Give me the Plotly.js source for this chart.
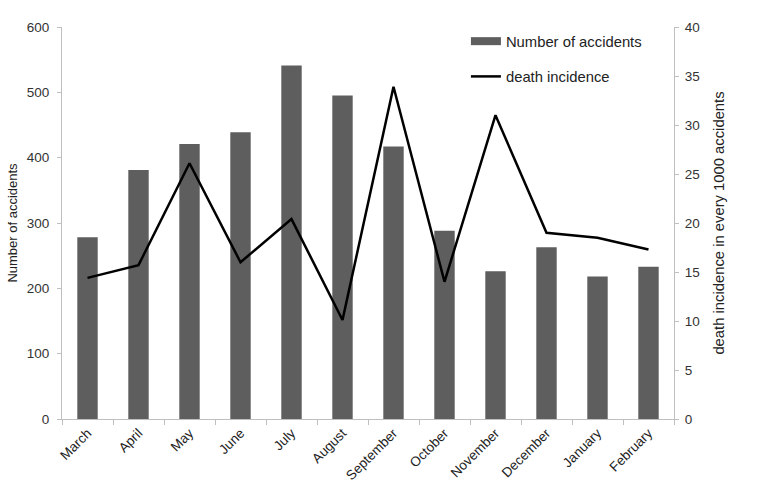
<!DOCTYPE html>
<html><head><meta charset="utf-8">
<script src="https://cdn.plot.ly/plotly-3.0.1.min.js"></script>
<style>body{margin:0;background:#fff}#chart{width:762px;height:496px}</style>
</head><body><div id="chart"></div>
<script>
const months = ["March","April","May","June","July","August","September","October","November","December","January","February"];
const accidents = [278, 381, 421, 439, 541, 495, 417, 288, 226, 263, 218, 233];
const deathIncidence = [14.4, 15.7, 26.1, 16.0, 20.4, 10.1, 33.9, 14.0, 31.0, 19.0, 18.5, 17.3];
const leftTicks = [0,100,200,300,400,500,600];
const rightTicks = [0,5,10,15,20,25,30,35,40];

const fam = "Liberation Sans, Arial, sans-serif";
const barColor = "#5e5e5e";
const traces = [
  {type:"bar", x:months, y:accidents, name:"Number of accidents",
   marker:{color:barColor}, yaxis:"y", showlegend:false},
  // legend-only entry so the bar key is drawn as a wide swatch like the reference
  {type:"scatter", mode:"lines", x:[months[0]], y:[null], name:"Number of accidents",
   line:{color:barColor, width:8}, yaxis:"y", legendgroup:"a", hoverinfo:"skip"},
  {type:"scatter", mode:"lines", x:months, y:deathIncidence, name:"death incidence",
   line:{color:"#000", width:2.5}, yaxis:"y2", legendgroup:"b"}
];
const layout = {
  width:762, height:496,
  margin:{l:62, r:88, t:27, b:77},
  paper_bgcolor:"#fff", plot_bgcolor:"#fff",
  font:{family:fam, size:13, color:"#333"},
  bargap:0.6,
  showlegend:true,
  legend:{x:0.66, y:1.005, xanchor:"left", yanchor:"top", bgcolor:"rgba(0,0,0,0)",
          font:{family:fam, size:14.8, color:"#222"}, traceorder:"grouped", tracegroupgap:13},
  xaxis:{type:"category", tickangle:-45, showgrid:false, showline:true, linecolor:"#bfbfbf",
         ticks:"outside", tickson:"boundaries", ticklen:5, tickcolor:"#bfbfbf",
         tickfont:{family:fam, size:13.5, color:"#222"}},
  yaxis:{range:[0,600], tickvals:leftTicks, showgrid:false, showline:true, linecolor:"#bfbfbf",
         ticks:"outside", ticklen:4, tickcolor:"#bfbfbf", zeroline:false, ticklabelstandoff:5,
         title:{text:"Number of accidents", standoff:6, font:{family:fam, size:13, color:"#222"}},
         tickfont:{family:fam, size:13.5, color:"#333"}},
  yaxis2:{range:[0,40], tickvals:rightTicks, overlaying:"y", side:"right", showgrid:false,
          showline:true, linecolor:"#bfbfbf", ticks:"outside", ticklen:4, tickcolor:"#bfbfbf", zeroline:false,
          ticklabelstandoff:3,
          title:{text:"death incidence in every 1000 accidents", standoff:14, font:{family:fam, size:14.8, color:"#222"}},
          tickfont:{family:fam, size:13.5, color:"#333"}}
};
Plotly.newPlot("chart", traces, layout, {displayModeBar:false, staticPlot:true});
</script></body></html>
